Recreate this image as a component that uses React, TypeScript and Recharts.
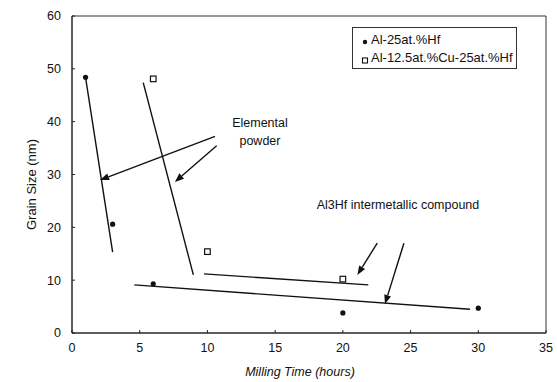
import React from 'react';
import {
  ComposedChart,
  Scatter,
  XAxis,
  YAxis,
  ReferenceLine,
  ReferenceArea,
  ReferenceDot,
  Legend,
  Label,
} from 'recharts';

const FONT = '"Liberation Sans", Arial, sans-serif';
const INK = '#111';

// Series values (Milling time in hours, grain size in nm)
const alHf = [
  { x: 1, y: 48.4 },
  { x: 3, y: 20.6 },
  { x: 6, y: 9.3 },
  { x: 20, y: 3.8 },
  { x: 30, y: 4.7 },
];
const alCuHf = [
  { x: 6, y: 48.1 },
  { x: 10, y: 15.4 },
  { x: 20, y: 10.2 },
];

const xTicks = [0, 5, 10, 15, 20, 25, 30, 35];
const yTicks = [0, 10, 20, 30, 40, 50, 60];

// Hand-drawn trend lines (data coordinates)
const trendLines = [
  [{ x: 1.0, y: 48.4 }, { x: 3.0, y: 15.3 }],
  [{ x: 5.26, y: 47.4 }, { x: 8.96, y: 11.0 }],
  [{ x: 9.75, y: 11.2 }, { x: 21.88, y: 9.1 }],
  [{ x: 4.6, y: 9.1 }, { x: 29.39, y: 4.5 }],
];

// Annotation arrows: tail -> tip
const arrows = [
  [{ x: 10.56, y: 37.2 }, { x: 2.07, y: 28.96 }],
  [{ x: 10.68, y: 35.45 }, { x: 7.6, y: 28.6 }],
  [{ x: 22.54, y: 17.0 }, { x: 21.07, y: 11.0 }],
  [{ x: 24.51, y: 17.0 }, { x: 23.11, y: 5.5 }],
];

const annotations = [
  { x: 13.88, y: 39.75, text: 'Elemental' },
  { x: 13.88, y: 36.3, text: 'powder' },
  { x: 24.07, y: 24.2, text: 'Al3Hf intermetallic compound' },
];

const legendItems = [
  { name: 'Al-25at.%Hf', kind: 'circle' },
  { name: 'Al-12.5at.%Cu-25at.%Hf', kind: 'square' },
];

const ArrowShape = (p: any) => {
  const { x1, y1, x2, y2 } = p;
  const ang = Math.atan2(y2 - y1, x2 - x1);
  const L = 9;
  const W = 3.5;
  const bx = x2 - L * Math.cos(ang);
  const by = y2 - L * Math.sin(ang);
  const s = Math.sin(ang);
  const c = Math.cos(ang);
  const pts = `${x2},${y2} ${bx + W * s},${by - W * c} ${bx - W * s},${by + W * c}`;
  return (
    <g>
      <line x1={x1} y1={y1} x2={bx} y2={by} stroke={INK} strokeWidth={1.4} />
      <polygon points={pts} fill={INK} />
    </g>
  );
};

const TrendShape = (p: any) => (
  <line x1={p.x1} y1={p.y1} x2={p.x2} y2={p.y2} stroke={INK} strokeWidth={1.4} />
);

const CircleDot = (p: any) => <circle cx={p.cx} cy={p.cy} r={2.6} fill={INK} />;
const SquareDot = (p: any) => (
  <rect x={p.cx - 2.8} y={p.cy - 2.8} width={5.6} height={5.6} fill="#fff" stroke={INK} strokeWidth={1.2} />
);

const LegendBox = () => (
  <div
    style={{
      position: 'absolute',
      left: 0,
      top: 0,
      width: 165,
      height: 42,
      border: '1px solid #333',
      boxSizing: 'border-box',
      background: '#fff',
      fontFamily: FONT,
      fontSize: 13,
      color: INK,
    }}
  >
    {legendItems.map((it, i) => (
      <div
        key={it.name}
        style={{ position: 'absolute', left: 8, top: 2 + i * 18, height: 18, display: 'flex', alignItems: 'center', whiteSpace: 'nowrap' }}
      >
        <svg width={8} height={18} style={{ marginRight: 2 }}>
          {it.kind === 'circle' ? (
            <circle cx={4} cy={12} r={2.2} fill={INK} />
          ) : (
            <rect x={1.5} y={10} width={5} height={5} fill="#fff" stroke={INK} strokeWidth={1.1} />
          )}
        </svg>
        <span>{it.name}</span>
      </div>
    ))}
  </div>
);

export default function App() {
  return (
    <div style={{ position: 'absolute', left: 0, top: 0, width: 557, height: 382, background: '#fff' }}>
      <ComposedChart
        width={557}
        height={382}
        margin={{ top: 16, right: 11, bottom: 0, left: 12 }}
        style={{ fontFamily: FONT }}
      >
        <XAxis
          type="number"
          dataKey="x"
          domain={[0, 35]}
          ticks={xTicks}
          height={49}
          tickSize={-3}
          tickMargin={13}
          stroke="#222"
          tick={{ fill: INK, fontSize: 12.5, fontFamily: FONT }}
          allowDataOverflow
        >
          <Label
            content={(props: any) => {
              const vb = props.viewBox;
              return (
                <text
                  x={vb.x + vb.width / 2 - 9}
                  y={vb.y + 43}
                  textAnchor="middle"
                  fontFamily={FONT}
                  fontSize={12.5}
                  fontStyle="italic"
                  fill={INK}
                >
                  Milling Time (hours)
                </text>
              );
            }}
          />
        </XAxis>
        <YAxis
          type="number"
          dataKey="y"
          domain={[0, 60]}
          ticks={yTicks}
          width={60}
          tickSize={-3}
          tickMargin={14}
          stroke="#222"
          tick={{ fill: INK, fontSize: 12.5, fontFamily: FONT }}
          allowDataOverflow
        >
          <Label
            content={(props: any) => {
              const vb = props.viewBox;
              const cx = vb.x + 19;
              const cy = vb.y + vb.height / 2 + 10;
              return (
                <text
                  x={cx}
                  y={cy}
                  transform={`rotate(-90, ${cx}, ${cy})`}
                  textAnchor="middle"
                  dominantBaseline="central"
                  fontFamily={FONT}
                  fontSize={13}
                  fill={INK}
                >
                  Grain Size (nm)
                </text>
              );
            }}
          />
        </YAxis>
        <ReferenceArea x1={0} x2={35} y1={0} y2={60} fill="none" stroke="#333" strokeWidth={1} />
        {trendLines.map((seg, i) => (
          <ReferenceLine key={'t' + i} segment={seg} shape={TrendShape} ifOverflow="visible" />
        ))}
        {arrows.map((seg, i) => (
          <ReferenceLine key={'a' + i} segment={seg} shape={ArrowShape} ifOverflow="visible" />
        ))}
        {annotations.map((a, i) => (
          <ReferenceDot
            key={'n' + i}
            x={a.x}
            y={a.y}
            ifOverflow="visible"
            shape={(p: any) => (
              <text
                x={p.cx}
                y={p.cy}
                textAnchor="middle"
                dominantBaseline="central"
                fontFamily={FONT}
                fontSize={12.5}
                fill={INK}
              >
                {a.text}
              </text>
            )}
          />
        ))}
        <Scatter name="Al-25at.%Hf" data={alHf} shape={CircleDot} isAnimationActive={false} />
        <Scatter name="Al-12.5at.%Cu-25at.%Hf" data={alCuHf} shape={SquareDot} isAnimationActive={false} />
        <Legend
          verticalAlign="top"
          content={() => <LegendBox />}
          wrapperStyle={{ left: 352, top: 27, width: 0, height: 0, overflow: 'visible' }}
        />
      </ComposedChart>
    </div>
  );
}
